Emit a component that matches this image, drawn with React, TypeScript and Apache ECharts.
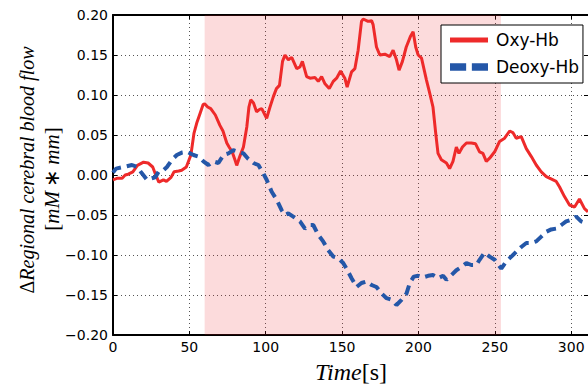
import React, { useEffect, useRef } from "react";
import * as echarts from "echarts";

const oxyTime = [0, 3, 6, 8, 10, 13, 16, 20, 23, 26, 28, 30, 33, 35, 38, 40, 43, 45, 48, 50, 51, 53, 55, 57, 59, 60, 62, 64, 67, 70, 72, 74.5, 76, 78, 80, 81, 83, 85.4, 87.6, 89, 90.2, 92, 94, 96, 97.4, 99.5, 100.6, 102.8, 105, 107, 109, 111, 112.6, 114.8, 117, 120.3, 122.4, 124, 126.8, 129, 132.2, 134.4, 136.6, 138.8, 141.6, 144.2, 146.4, 149, 151.8, 153.3, 156.2, 158.4, 160.5, 162.7, 163.8, 167, 169.3, 170.3, 172.5, 174.7, 178, 181.2, 183.4, 185.6, 187.3, 189.5, 192, 194.7, 196.5, 198.2, 199.8, 202, 205.2, 207.4, 209.5, 211.3, 212.8, 215, 218.3, 220.4, 222.6, 224.8, 226.5, 228.8, 231.4, 234.6, 237.4, 240, 242.2, 244.4, 246.6, 249.9, 253.1, 256.4, 259.7, 261.8, 264, 267.3, 270.6, 273.9, 277.1, 280.4, 283.7, 285.8, 290.2, 292.4, 295.6, 298.9, 302.2, 305.4, 308.7, 311];
const oxyValues = [-0.006, -0.004, -0.004, 0.0, 0.001, 0.004, 0.012, 0.016, 0.015, 0.01, 0.0, -0.009, -0.006, -0.008, -0.003, 0.004, 0.005, 0.006, 0.01, 0.02, 0.025, 0.052, 0.066, 0.077, 0.088, 0.089, 0.085, 0.083, 0.075, 0.062, 0.055, 0.04, 0.035, 0.029, 0.018, 0.012, 0.023, 0.035, 0.06, 0.085, 0.094, 0.09, 0.079, 0.082, 0.083, 0.075, 0.071, 0.085, 0.098, 0.108, 0.112, 0.142, 0.15, 0.144, 0.147, 0.133, 0.135, 0.142, 0.123, 0.121, 0.122, 0.117, 0.123, 0.114, 0.108, 0.117, 0.121, 0.13, 0.121, 0.11, 0.129, 0.133, 0.156, 0.192, 0.195, 0.192, 0.193, 0.188, 0.16, 0.15, 0.151, 0.148, 0.156, 0.144, 0.131, 0.142, 0.16, 0.173, 0.179, 0.16, 0.15, 0.146, 0.119, 0.102, 0.085, 0.052, 0.027, 0.019, 0.015, 0.008, 0.017, 0.035, 0.027, 0.035, 0.04, 0.04, 0.039, 0.029, 0.027, 0.017, 0.021, 0.029, 0.042, 0.046, 0.055, 0.053, 0.046, 0.048, 0.033, 0.023, 0.0125, 0.004, -0.002, -0.004, -0.008, -0.015, -0.027, -0.0375, -0.04, -0.03, -0.042, -0.046];

const deoxyTime = [0, 2, 7, 12.4, 15.7, 19, 22.2, 25.5, 27.6, 29.8, 33, 35.3, 38.6, 41.8, 45.1, 48.4, 52.7, 56, 59.2, 62.5, 65.7, 69, 72.3, 75.6, 78.8, 82.1, 85.4, 88.6, 91.9, 95.2, 98.4, 100.6, 103.9, 107.2, 110.4, 112.6, 114.8, 118, 122.4, 125.7, 129, 131.1, 134.4, 137.6, 140.9, 144.2, 147.5, 150.7, 152.9, 156.2, 159.5, 162.7, 166, 169.3, 172.5, 175.8, 179.1, 182.4, 185.6, 188.9, 192.2, 194.3, 196.9, 199.8, 203, 206.3, 209.5, 212.8, 216.1, 218.3, 221.6, 224.8, 228.1, 231.4, 234.6, 237.9, 240, 243.3, 246.6, 249.9, 254.2, 257.5, 260.8, 264, 267.3, 270.6, 273.9, 277.1, 280.4, 283.7, 286.9, 290.2, 293.5, 296.7, 300, 303.3, 306.5, 311];
const deoxyValues = [0.003, 0.008, 0.01, 0.0125, 0.01, 0.002, -0.006, -0.004, -0.003, 0.004, 0.006, 0.01, 0.019, 0.025, 0.028, 0.029, 0.025, 0.023, 0.017, 0.0125, 0.017, 0.015, 0.025, 0.027, 0.031, 0.029, 0.027, 0.02, 0.015, 0.0125, 0.002, -0.006, -0.021, -0.031, -0.044, -0.05, -0.048, -0.052, -0.058, -0.067, -0.0625, -0.0625, -0.075, -0.083, -0.094, -0.102, -0.104, -0.11, -0.117, -0.129, -0.14, -0.135, -0.133, -0.1375, -0.14, -0.148, -0.154, -0.156, -0.1625, -0.156, -0.148, -0.135, -0.127, -0.126, -0.128, -0.126, -0.125, -0.129, -0.126, -0.131, -0.125, -0.119, -0.115, -0.11, -0.1125, -0.1125, -0.106, -0.097, -0.102, -0.106, -0.117, -0.108, -0.102, -0.096, -0.09, -0.085, -0.085, -0.083, -0.077, -0.071, -0.068, -0.067, -0.0625, -0.058, -0.056, -0.052, -0.058, -0.061];

const seriesNames = ["Oxy-Hb", "Deoxy-Hb"];
const stimulusWindow = [60, 254];
const xRange = [0, 311];
const xStep = 50;
const yRange = [-0.2, 0.2];
const yStep = 0.05;
const xTitle = "Time";
const xUnit = "[s]";
const yTitleDelta = "Δ";
const yTitle = "Regional cerebral blood flow";

const RED = "#ee2a2a";
const BLUE = "#2457a8";
const SANS = "DejaVu Sans";
const SERIF = "'Liberation Serif', serif";

function pairs(t: number[], v: number[]) {
  return t.map((x, i) => [x, v[i]]);
}

export default function App() {
  const ref = useRef<HTMLDivElement>(null);
  useEffect(() => {
    if (!ref.current) return;
    const chart = echarts.init(ref.current, null, { renderer: "svg" });
    const tickLine = { show: true, inside: true, length: 4, lineStyle: { color: "#000", width: 1 } };
    const spine = { show: true, onZero: false, lineStyle: { color: "#000", width: 2 } };
    const grid = { show: true, lineStyle: { color: "#555", width: 1, type: [1, 3] } };
    chart.setOption({
      animation: false,
      backgroundColor: "#fff",
      grid: { left: 113, right: 0, top: 15, bottom: 54, containLabel: false },
      xAxis: [
        {
          type: "value",
          min: xRange[0],
          max: xRange[1],
          interval: xStep,
          position: "bottom",
          axisLine: spine,
          axisTick: tickLine,
          splitLine: grid,
          axisLabel: { show: true, showMaxLabel: false, color: "#000", fontFamily: SANS, fontSize: 14, margin: 5 },
        },
        {
          type: "value",
          min: xRange[0],
          max: xRange[1],
          interval: xStep,
          position: "top",
          axisLine: spine,
          axisTick: tickLine,
          splitLine: { show: false },
          axisLabel: { show: false },
        },
      ],
      yAxis: [
        {
          type: "value",
          min: yRange[0],
          max: yRange[1],
          interval: yStep,
          position: "left",
          axisLine: spine,
          axisTick: tickLine,
          splitLine: grid,
          axisLabel: {
            color: "#000",
            fontFamily: SANS,
            fontSize: 14,
            margin: 5,
            formatter: (v: number) => v.toFixed(2).replace("-", "\u2212"),
          },
        },
        {
          type: "value",
          min: yRange[0],
          max: yRange[1],
          interval: yStep,
          position: "right",
          axisLine: { show: false, onZero: false },
          axisTick: tickLine,
          splitLine: { show: false },
          axisLabel: { show: false },
        },
      ],
      legend: {
        orient: "vertical",
        left: 441,
        top: 25,
        padding: [5, 4, 6, 9],
        itemGap: 7,
        itemWidth: 38,
        itemHeight: 8,
        backgroundColor: "#fff",
        borderColor: "#000",
        borderWidth: 1,
        borderRadius: 0,
        itemStyle: { borderWidth: 0 },
        textStyle: { color: "#000", fontFamily: SANS, fontSize: 17, lineHeight: 20, padding: [0, 0, 0, 3] },
        data: [
          { name: seriesNames[0], icon: "path://M0,0H38V5H0Z", itemStyle: { color: RED } },
          { name: seriesNames[1], icon: "path://M0,0H17V8H0Z M23,0H40V8H23Z", itemStyle: { color: BLUE } },
        ],
      },
      series: [
        {
          name: "stimulus",
          type: "line",
          data: [],
          z: 1,
          silent: true,
          markArea: {
            silent: true,
            itemStyle: { color: "rgba(240, 40, 50, 0.17)" },
            data: [[{ xAxis: stimulusWindow[0] }, { xAxis: stimulusWindow[1] }]],
          },
        },
        {
          name: seriesNames[0],
          type: "line",
          data: pairs(oxyTime, oxyValues),
          showSymbol: false,
          symbol: "none",
          z: 3,
          itemStyle: { color: RED },
          lineStyle: { color: RED, width: 3 },
        },
        {
          name: seriesNames[1],
          type: "line",
          data: pairs(deoxyTime, deoxyValues),
          showSymbol: false,
          symbol: "none",
          z: 4,
          itemStyle: { color: BLUE },
          lineStyle: { color: BLUE, width: 4, type: [10, 6] },
        },
      ],
      graphic: [
        {
          type: "text",
          x: 351,
          y: 372,
          style: {
            text: `{i|${xTitle}}{r|${xUnit}}`,
            align: "center",
            verticalAlign: "middle",
            rich: {
              i: { fontFamily: SERIF, fontStyle: "italic", fontSize: 24, fill: "#000" },
              r: { fontFamily: SERIF, fontStyle: "normal", fontSize: 24, fill: "#000" },
            },
          },
        },
        {
          type: "text",
          x: 27,
          y: 170,
          rotation: Math.PI / 2,
          style: {
            text: `{d|${yTitleDelta}}{i|${yTitle}}`,
            align: "center",
            verticalAlign: "middle",
            rich: {
              d: { fontFamily: SERIF, fontSize: 20, fill: "#000" },
              i: { fontFamily: SERIF, fontStyle: "italic", fontSize: 20, fill: "#000" },
            },
          },
        },
        {
          type: "text",
          x: 52,
          y: 179,
          rotation: Math.PI / 2,
          style: {
            text: "{r|[}{i|mM}{r|\u2009\u2217\u2009}{i|mm}{r|]}",
            align: "center",
            verticalAlign: "middle",
            rich: {
              r: { fontFamily: SERIF, fontSize: 21, fill: "#000" },
              i: { fontFamily: SERIF, fontStyle: "italic", fontSize: 21, fill: "#000" },
            },
          },
        },
      ],
    });
    return () => chart.dispose();
  }, []);
  return <div ref={ref} style={{ width: 588, height: 389, position: "absolute", left: 0, top: 0 }} />;
}
